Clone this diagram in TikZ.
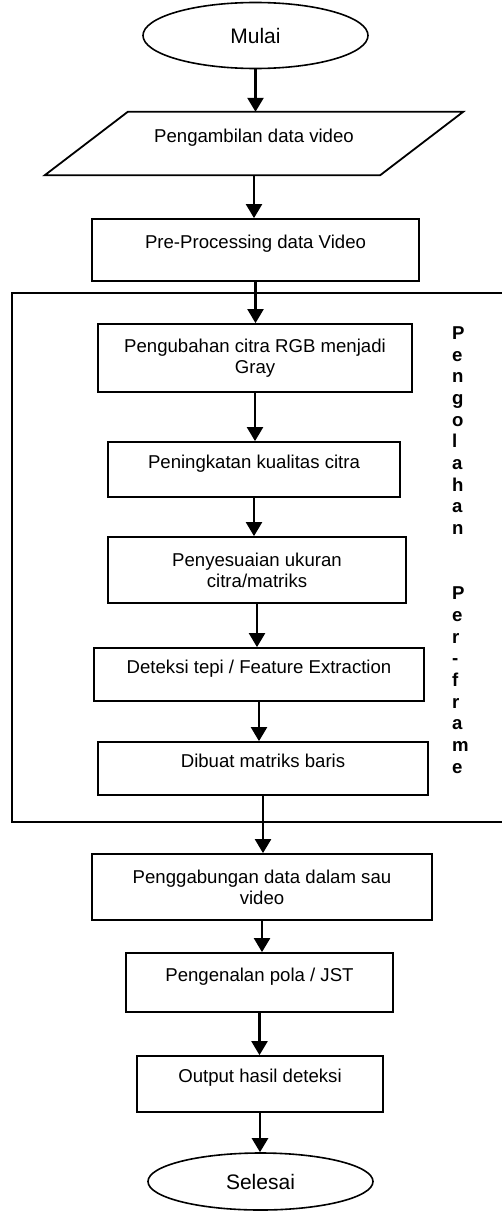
\documentclass[tikz,border=0pt]{standalone}
\usepackage{fontspec}
\setmainfont{Liberation Sans}
\usetikzlibrary{arrows.meta,shapes.geometric}

\begin{document}
\begin{tikzpicture}[x=1pt, y=-1pt,
  every node/.style={font=\fontsize{18.6}{21}\selectfont},
  proc/.style={draw, line width=1.8pt, inner sep=0pt, align=center},
  oneline/.style={text height=13.5pt, text depth=16pt},
  io/.style={inner sep=0pt, align=center},
  term/.style={draw, ellipse, line width=1.6pt, inner sep=0pt, font=\fontsize{21}{24}\selectfont},
  grp/.style={draw, line width=1.5pt, inner sep=0pt},
  flow/.style={-{Triangle[length=14pt, width=16pt]}, line width=2.4pt},
  side/.style={font=\fontsize{18.6}{21.7}\selectfont\bfseries, align=left, inner sep=0pt, anchor=north west}]
  \useasboundingbox (0,0) rectangle (502,1212);
  % frame of the per-frame stage
  \node[grp, minimum width=508pt, minimum height=529pt] (frame) at (266,557.5) {};
  \node[side] (sidelab) at (452,326.3) {P\\e\\n\\g\\o\\l\\a\\h\\a\\n\\~\\~\\P\\e\\r\\-\\f\\r\\a\\m\\e};
  % steps
  \node[term, minimum width=225pt, minimum height=66pt] (start) at (255.5,35.5) {Mulai};
  \node[io, oneline, minimum width=335pt, minimum height=63pt] (input) at (254,143.5) {Pengambilan data video};
  \draw[line width=1.8pt] ([xshift=41.5pt]input.north west) -- ([xshift=41.5pt]input.north east)
    -- ([xshift=-41.5pt]input.south east) -- ([xshift=-41.5pt]input.south west) -- cycle;
  \node[proc, oneline, minimum width=327pt, minimum height=62pt] (pre) at (255.5,250) {Pre-Processing data Video};
  \node[proc, minimum width=314pt, minimum height=68pt] (gray) at (255,358) {Pengubahan citra RGB menjadi\\Gray};
  \node[proc, oneline, minimum width=292pt, minimum height=55pt] (enh) at (254,469.5) {Peningkatan kualitas citra};
  \node[proc, minimum width=298pt, minimum height=66pt] (resize) at (257,570) {Penyesuaian ukuran\\citra/matriks};
  \node[proc, oneline, minimum width=330pt, minimum height=53pt] (edges) at (259,674.5) {Deteksi tepi / Feature Extraction};
  \node[proc, oneline, minimum width=330pt, minimum height=53pt] (rows) at (263,768.5) {Dibuat matriks baris};
  \node[proc, minimum width=340pt, minimum height=66pt] (merge) at (262,887) {Penggabungan data dalam sau\\video};
  \node[proc, oneline, minimum width=267pt, minimum height=59pt] (jst) at (259.5,982.5) {Pengenalan pola / JST};
  \node[proc, oneline, minimum width=246pt, minimum height=56pt] (out) at (260,1084) {Output hasil deteksi};
  \node[term, minimum width=225pt, minimum height=57pt] (stop) at (260.5,1181.5) {Selesai};
  % connectors
  \draw[flow] (start.south) -- (start.south |- input.north);
  \draw[flow] (input.south) -- (input.south |- pre.north);
  \draw[flow] (pre.south) -- (pre.south |- gray.north);
  \draw[flow] (gray.south) -- (gray.south |- enh.north);
  \draw[flow] (enh.south) -- (enh.south |- resize.north);
  \draw[flow] (resize.south) -- (resize.south |- edges.north);
  \draw[flow] (edges.south) -- (edges.south |- rows.north);
  \draw[flow] (rows.south) -- (rows.south |- merge.north);
  \draw[flow] (merge.south) -- (merge.south |- jst.north);
  \draw[flow] (jst.south) -- (jst.south |- out.north);
  \draw[flow] (out.south) -- (out.south |- stop.north);
\end{tikzpicture}
\end{document}
